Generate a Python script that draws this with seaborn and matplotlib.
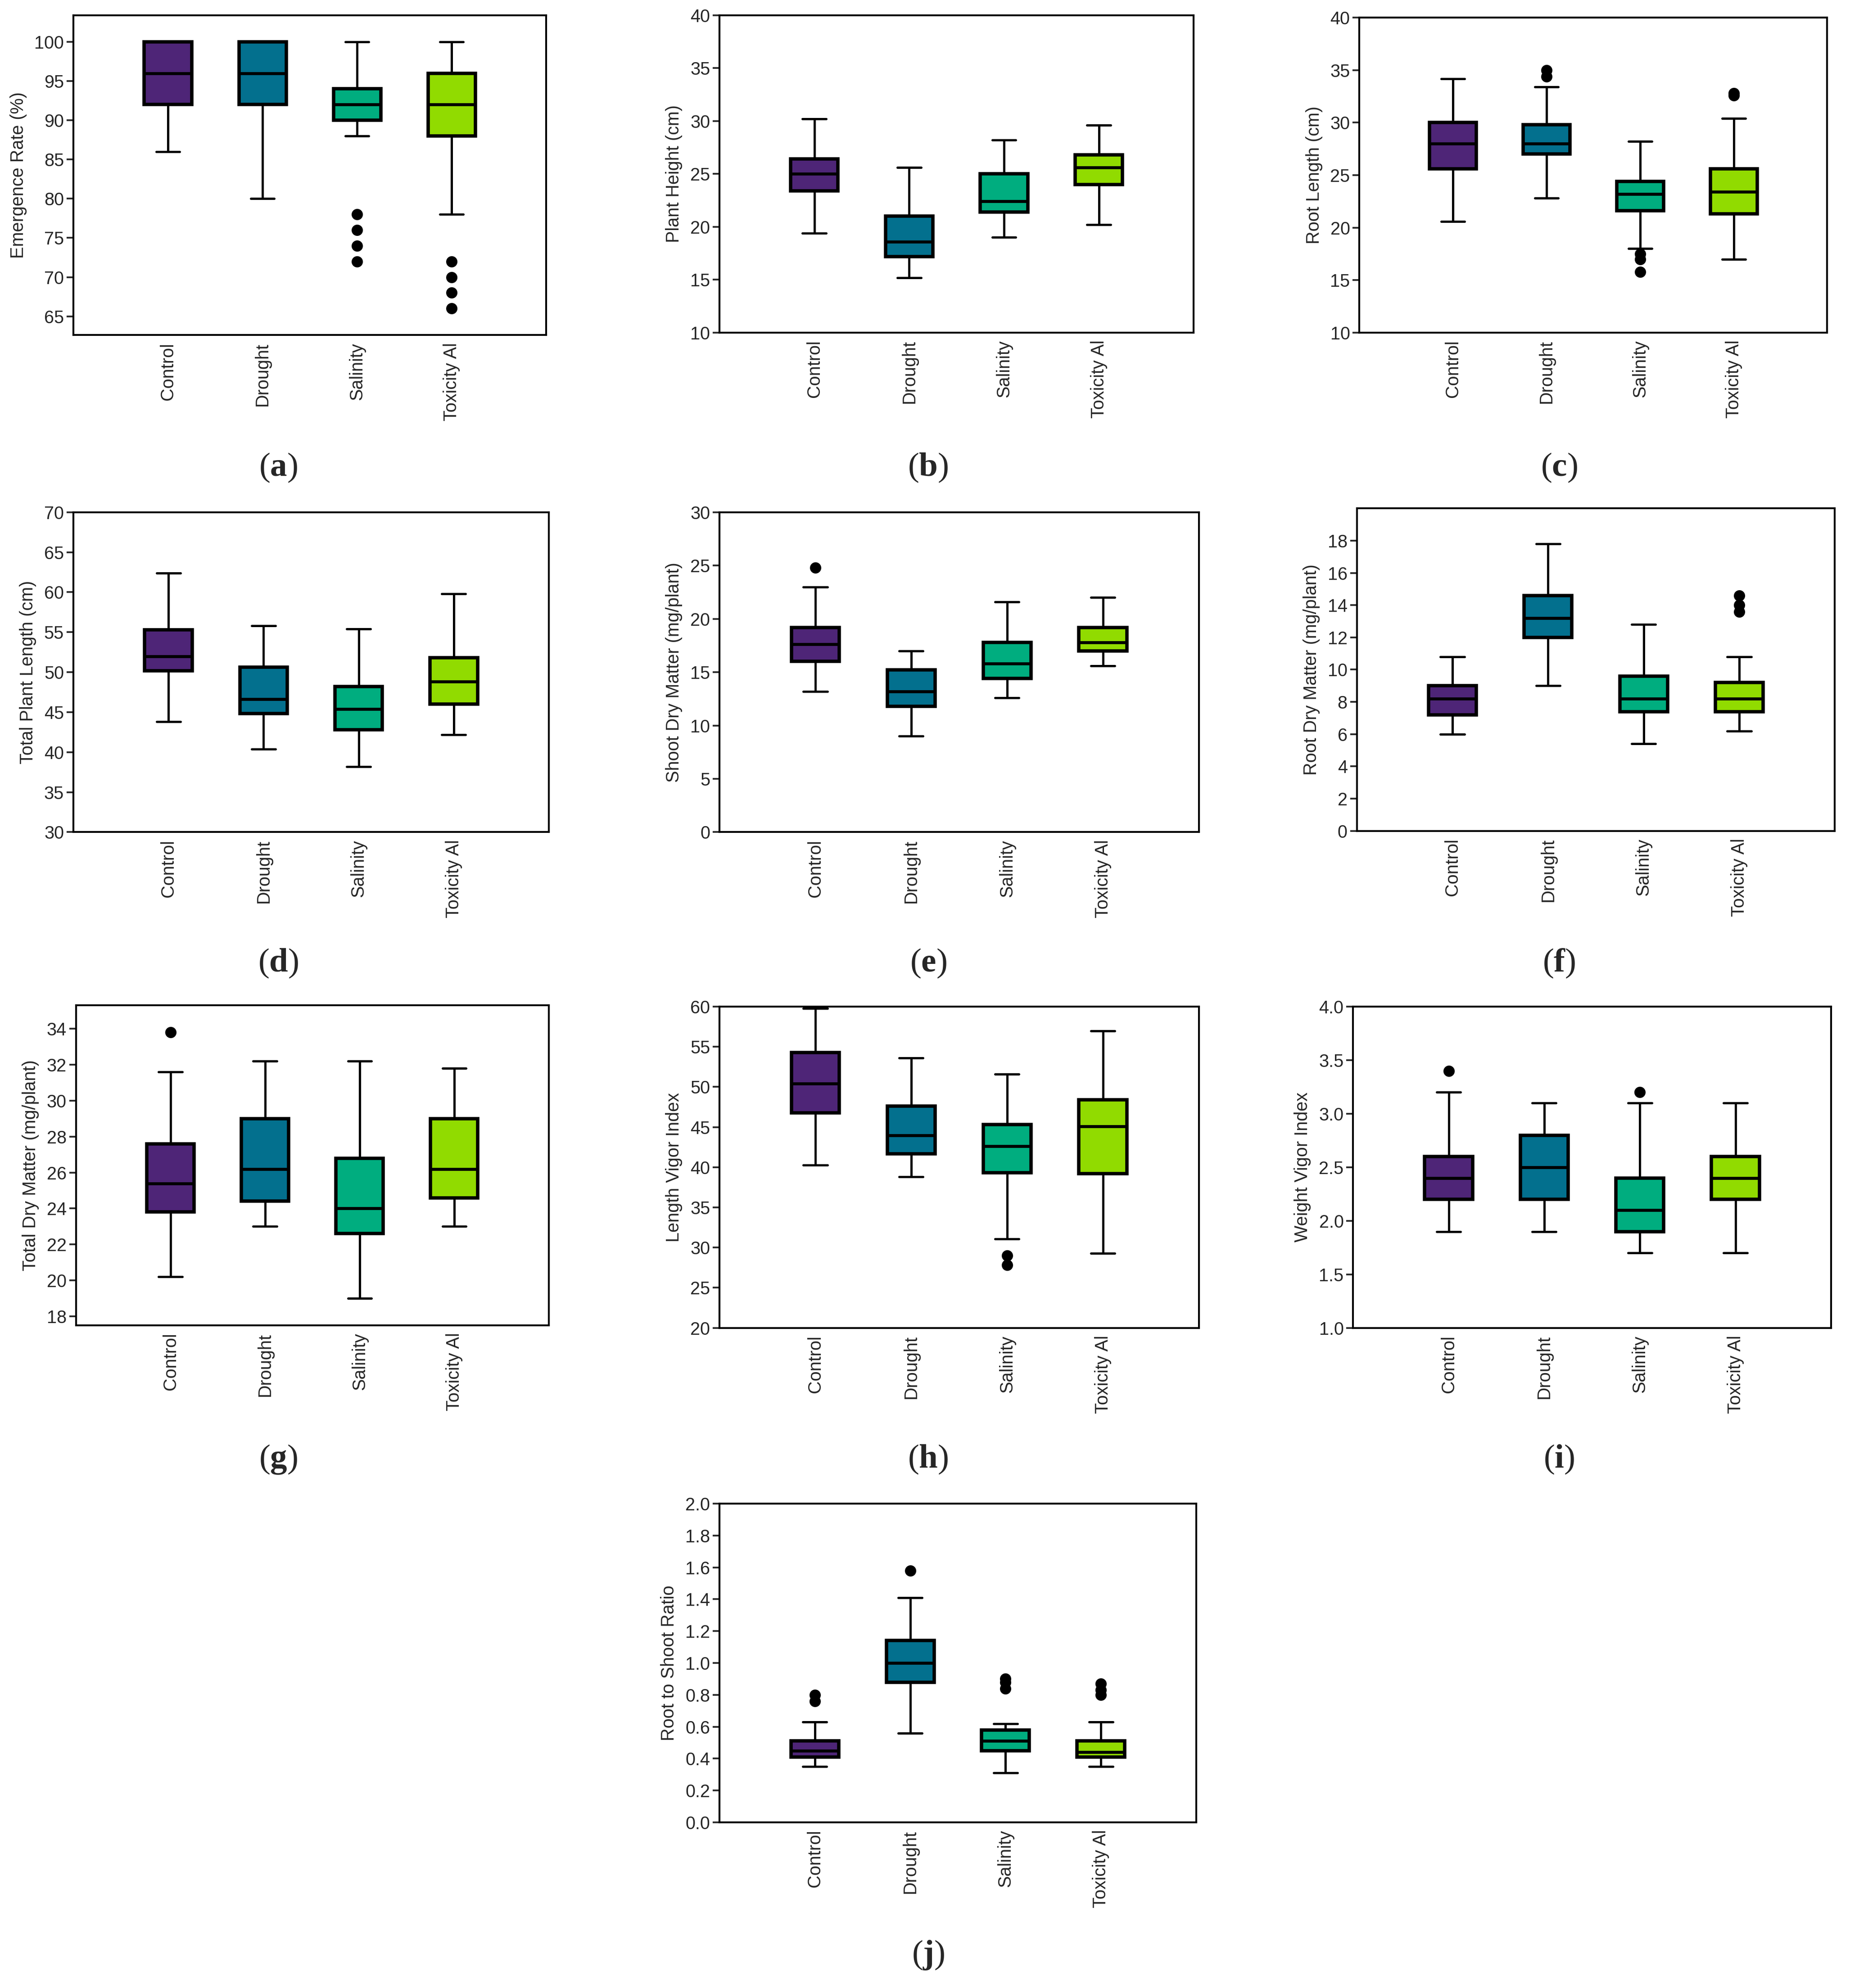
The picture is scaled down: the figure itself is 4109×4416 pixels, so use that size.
import numpy as np
import pandas as pd
import matplotlib
matplotlib.use("Agg")
import matplotlib.pyplot as plt
from matplotlib.ticker import FormatStrFormatter
import seaborn as sns

groups = ["Control", "Drought", "Salinity", "Toxicity Al"]
colors = ["#4e2577", "#03708e", "#00ad7f", "#91db00"]

# five-number summaries per group: [whisker low, Q1, median, Q3, whisker high]
emergence_box = [[86, 92, 96, 100, 100], [80, 92, 96, 100, 100],
                 [88, 90, 92, 94, 100], [78, 88, 92, 96, 100]]
emergence_out = [[], [], [78, 76, 74, 72], [72, 70, 68, 66]]

height_box = [[19.4, 23.4, 25.0, 26.4, 30.2], [15.2, 17.2, 18.6, 21.0, 25.6],
              [19.0, 21.4, 22.4, 25.0, 28.2], [20.2, 24.0, 25.6, 26.8, 29.6]]
height_out = [[], [], [], []]

root_len_box = [[20.6, 25.6, 28.0, 30.0, 34.2], [22.8, 27.0, 28.0, 29.8, 33.4],
                [18.0, 21.6, 23.2, 24.4, 28.2], [17.0, 21.3, 23.4, 25.6, 30.4]]
root_len_out = [[], [35.0, 34.4], [17.5, 17.0, 15.8], [32.8, 32.6]]

total_len_box = [[43.8, 50.2, 52.0, 55.3, 62.4], [40.4, 44.8, 46.6, 50.6, 55.8],
                 [38.2, 42.8, 45.4, 48.2, 55.4], [42.2, 46.0, 48.8, 51.8, 59.8]]
total_len_out = [[], [], [], []]

shoot_dm_box = [[13.2, 16.0, 17.6, 19.2, 23.0], [9.0, 11.8, 13.2, 15.2, 17.0],
                [12.6, 14.4, 15.8, 17.8, 21.6], [15.6, 17.0, 17.8, 19.2, 22.0]]
shoot_dm_out = [[24.8], [], [], []]

root_dm_box = [[6.0, 7.2, 8.2, 9.0, 10.8], [9.0, 12.0, 13.2, 14.6, 17.8],
               [5.4, 7.4, 8.2, 9.6, 12.8], [6.2, 7.4, 8.2, 9.2, 10.8]]
root_dm_out = [[], [], [], [14.6, 14.0, 13.6]]

total_dm_box = [[20.2, 23.8, 25.4, 27.6, 31.6], [23.0, 24.4, 26.2, 29.0, 32.2],
                [19.0, 22.6, 24.0, 26.8, 32.2], [23.0, 24.6, 26.2, 29.0, 31.8]]
total_dm_out = [[33.8], [], [], []]

lvi_box = [[40.3, 46.8, 50.4, 54.3, 59.8], [38.8, 41.7, 44.0, 47.6, 53.6],
           [31.1, 39.3, 42.6, 45.3, 51.6], [29.3, 39.2, 45.1, 48.4, 57.0]]
lvi_out = [[], [], [29.0, 27.8], []]

wvi_box = [[1.9, 2.2, 2.4, 2.6, 3.2], [1.9, 2.2, 2.5, 2.8, 3.1],
           [1.7, 1.9, 2.1, 2.4, 3.1], [1.7, 2.2, 2.4, 2.6, 3.1]]
wvi_out = [[3.4], [], [3.2], []]

ratio_box = [[0.35, 0.41, 0.45, 0.51, 0.63], [0.56, 0.88, 1.00, 1.14, 1.41],
             [0.31, 0.45, 0.51, 0.58, 0.62], [0.35, 0.41, 0.44, 0.51, 0.63]]
ratio_out = [[0.80, 0.76], [1.58], [0.90, 0.88, 0.84], [0.87, 0.83, 0.80]]

panels = [
    ("a", "Emergence Rate (%)", emergence_box, emergence_out, (62.6, 103.4), np.arange(65, 101, 5), None),
    ("b", "Plant Height (cm)", height_box, height_out, (10, 40), np.arange(10, 41, 5), None),
    ("c", "Root Length (cm)", root_len_box, root_len_out, (10, 40), np.arange(10, 41, 5), None),
    ("d", "Total Plant Length (cm)", total_len_box, total_len_out, (30, 70), np.arange(30, 71, 5), None),
    ("e", "Shoot Dry Matter (mg/plant)", shoot_dm_box, shoot_dm_out, (0, 30), np.arange(0, 31, 5), None),
    ("f", "Root Dry Matter (mg/plant)", root_dm_box, root_dm_out, (0, 20), np.arange(0, 19, 2), None),
    ("g", "Total Dry Matter (mg/plant)", total_dm_box, total_dm_out, (17.5, 35.3), np.arange(18, 35, 2), None),
    ("h", "Length Vigor Index", lvi_box, lvi_out, (20, 60), np.arange(20, 61, 5), None),
    ("i", "Weight Vigor Index", wvi_box, wvi_out, (1.0, 4.0), np.arange(1.0, 4.01, 0.5), "%.1f"),
    ("j", "Root to Shoot Ratio", ratio_box, ratio_out, (0, 2.0), np.arange(0, 2.01, 0.2), "%.1f"),
]

# axes boxes in reference pixels (on a 1463 x 1572 grid): left, right, top, bottom
W, H = 1463.0, 1572.0
boxes = {
    "a": (58, 432, 12, 265), "b": (569, 944, 12, 263), "c": (1075, 1445, 14, 263),
    "d": (58, 434, 405, 658), "e": (569, 948, 405, 658), "f": (1073, 1451, 402, 657),
    "g": (60, 434, 795, 1048), "h": (569, 948, 796, 1050), "i": (1070, 1448, 796, 1050),
    "j": (569, 946, 1189, 1441),
}
letters = {"a": (220, 370), "b": (734, 370), "c": (1233, 370),
           "d": (220, 762), "e": (734, 762), "f": (1233, 762),
           "g": (220, 1154), "h": (734, 1154), "i": (1233, 1154), "j": (734, 1546)}

sns.set_theme(style="ticks")
plt.rcParams["font.family"] = ["Liberation Sans", "DejaVu Sans"]
plt.rcParams["mathtext.fontset"] = "custom"
plt.rcParams["mathtext.rm"] = "Liberation Serif"
plt.rcParams["mathtext.bf"] = "Liberation Serif:bold"


def box_frame(summary):
    # rebuild a sample whose quartiles and extremes equal the read summary
    rows = []
    for g, (lo, q1, med, q3, hi) in zip(groups, summary):
        for v in [lo, q1, q1, q1, med, q3, q3, q3, hi]:
            rows.append((g, v))
    return pd.DataFrame(rows, columns=["group", "value"])


def out_frame(outliers):
    rows = [(g, v) for g, vals in zip(groups, outliers) for v in vals]
    return pd.DataFrame(rows, columns=["group", "value"])


fig = plt.figure(figsize=(4109 / 300, 4416 / 300), dpi=300)

for key, ylabel, summary, outliers, ylim, yticks, fmt in panels:
    L, R, T, B = boxes[key]
    ax = fig.add_axes([L / W, 1 - B / H, (R - L) / W, (B - T) / H])
    sns.boxplot(data=box_frame(summary), x="group", y="value", hue="group",
                order=groups, hue_order=groups, palette=colors, saturation=1,
                legend=False, width=0.5, whis=(0, 100), showfliers=False,
                linecolor="black", linewidth=1.2, boxprops=dict(linewidth=1.8),
                medianprops=dict(linewidth=1.6), ax=ax)
    df_out = out_frame(outliers)
    if len(df_out):
        sns.stripplot(data=df_out, x="group", y="value", order=groups,
                      color="black", size=6, jitter=False, ax=ax, zorder=5)
    ax.set_xlim(-1, 4)
    ax.set_ylim(*ylim)
    ax.set_yticks(yticks)
    if fmt:
        ax.yaxis.set_major_formatter(FormatStrFormatter(fmt))
    ax.set_xlabel("")
    ax.set_ylabel(ylabel, fontsize=9.5)
    ax.set_xticks(range(len(groups)))
    ax.set_xticklabels(groups, rotation=90, fontsize=9.5)
    ax.tick_params(axis="x", length=0, pad=4)
    ax.tick_params(axis="y", length=3.5, width=0.9, labelsize=9.5, pad=1.5)
    for sp in ax.spines.values():
        sp.set_visible(True)
        sp.set_linewidth(1.0)
        sp.set_color("black")
    lx, ly = letters[key]
    fig.text(lx / W, 1 - ly / H, r"$\mathrm{(}\mathbf{%s}\mathrm{)}$" % key,
             ha="center", va="center", fontsize=18)

fig.savefig("out.png", dpi=300, facecolor="white")
